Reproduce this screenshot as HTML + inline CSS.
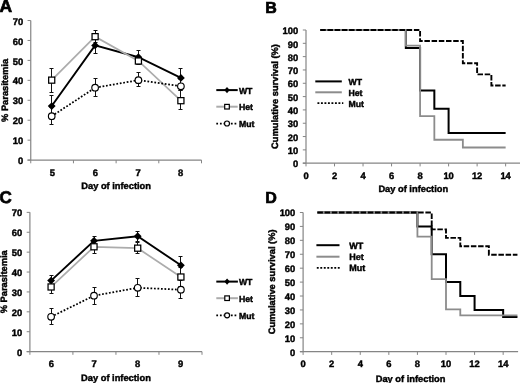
<!DOCTYPE html>
<html><head><meta charset="utf-8"><style>
html,body{margin:0;padding:0;background:#fff;}
body{width:520px;height:383px;overflow:hidden;}
svg{display:block;text-rendering:geometricPrecision;will-change:transform;}
text{font-family:"Liberation Sans", sans-serif;fill:#000;stroke:#000;stroke-width:0.42px;}
</style></head><body>
<svg width="520" height="383" viewBox="0 0 520 383">
<rect width="520" height="383" fill="#fff"/>
<line x1="30.75" y1="20.52" x2="30.75" y2="160.1" stroke="#858585" stroke-width="1.2"/>
<line x1="27.55" y1="160.1" x2="201.5" y2="160.1" stroke="#858585" stroke-width="1.2"/>
<line x1="27.55" y1="160.1" x2="30.75" y2="160.1" stroke="#858585" stroke-width="1.0"/>
<text x="23.15" y="164.2" font-size="9.4" text-anchor="end" font-weight="bold">0</text>
<line x1="27.55" y1="140.16" x2="30.75" y2="140.16" stroke="#858585" stroke-width="1.0"/>
<text x="23.15" y="144.26" font-size="9.4" text-anchor="end" font-weight="bold">10</text>
<line x1="27.55" y1="120.22" x2="30.75" y2="120.22" stroke="#858585" stroke-width="1.0"/>
<text x="23.15" y="124.32" font-size="9.4" text-anchor="end" font-weight="bold">20</text>
<line x1="27.55" y1="100.28" x2="30.75" y2="100.28" stroke="#858585" stroke-width="1.0"/>
<text x="23.15" y="104.38" font-size="9.4" text-anchor="end" font-weight="bold">30</text>
<line x1="27.55" y1="80.34" x2="30.75" y2="80.34" stroke="#858585" stroke-width="1.0"/>
<text x="23.15" y="84.44" font-size="9.4" text-anchor="end" font-weight="bold">40</text>
<line x1="27.55" y1="60.4" x2="30.75" y2="60.4" stroke="#858585" stroke-width="1.0"/>
<text x="23.15" y="64.5" font-size="9.4" text-anchor="end" font-weight="bold">50</text>
<line x1="27.55" y1="40.46" x2="30.75" y2="40.46" stroke="#858585" stroke-width="1.0"/>
<text x="23.15" y="44.56" font-size="9.4" text-anchor="end" font-weight="bold">60</text>
<line x1="27.55" y1="20.52" x2="30.75" y2="20.52" stroke="#858585" stroke-width="1.0"/>
<text x="23.15" y="24.62" font-size="9.4" text-anchor="end" font-weight="bold">70</text>
<line x1="30.75" y1="160.1" x2="30.75" y2="163.3" stroke="#858585" stroke-width="1.0"/>
<line x1="73.44" y1="160.1" x2="73.44" y2="163.3" stroke="#858585" stroke-width="1.0"/>
<line x1="116.12" y1="160.1" x2="116.12" y2="163.3" stroke="#858585" stroke-width="1.0"/>
<line x1="158.81" y1="160.1" x2="158.81" y2="163.3" stroke="#858585" stroke-width="1.0"/>
<line x1="201.5" y1="160.1" x2="201.5" y2="163.3" stroke="#858585" stroke-width="1.0"/>
<text x="52.3" y="175.7" font-size="9.4" text-anchor="middle" font-weight="bold">5</text>
<text x="95.3" y="175.7" font-size="9.4" text-anchor="middle" font-weight="bold">6</text>
<text x="138" y="175.7" font-size="9.4" text-anchor="middle" font-weight="bold">7</text>
<text x="180.5" y="175.7" font-size="9.4" text-anchor="middle" font-weight="bold">8</text>
<text x="116.12" y="189.2" font-size="9.3" text-anchor="middle" font-weight="bold">Day of infection</text>
<text transform="translate(7.8,90.41) rotate(-90)" x="0" y="0" font-size="9.3" text-anchor="middle" font-weight="bold">% Parasitemia</text>
<line x1="51.5" y1="95.5" x2="51.5" y2="117.5" stroke="#111" stroke-width="1.0"/>
<line x1="49.5" y1="95.5" x2="53.5" y2="95.5" stroke="#111" stroke-width="1.0"/>
<line x1="49.5" y1="117.5" x2="53.5" y2="117.5" stroke="#111" stroke-width="1.0"/>
<line x1="95.5" y1="37.5" x2="95.5" y2="53.5" stroke="#111" stroke-width="1.0"/>
<line x1="93.5" y1="37.5" x2="97.5" y2="37.5" stroke="#111" stroke-width="1.0"/>
<line x1="93.5" y1="53.5" x2="97.5" y2="53.5" stroke="#111" stroke-width="1.0"/>
<line x1="138.5" y1="50.5" x2="138.5" y2="64.5" stroke="#111" stroke-width="1.0"/>
<line x1="136.5" y1="50.5" x2="140.5" y2="50.5" stroke="#111" stroke-width="1.0"/>
<line x1="136.5" y1="64.5" x2="140.5" y2="64.5" stroke="#111" stroke-width="1.0"/>
<line x1="180.5" y1="68.5" x2="180.5" y2="86.5" stroke="#111" stroke-width="1.0"/>
<line x1="178.5" y1="68.5" x2="182.5" y2="68.5" stroke="#111" stroke-width="1.0"/>
<line x1="178.5" y1="86.5" x2="182.5" y2="86.5" stroke="#111" stroke-width="1.0"/>
<line x1="51.5" y1="68.5" x2="51.5" y2="92.5" stroke="#111" stroke-width="1.0"/>
<line x1="49.5" y1="68.5" x2="53.5" y2="68.5" stroke="#111" stroke-width="1.0"/>
<line x1="49.5" y1="92.5" x2="53.5" y2="92.5" stroke="#111" stroke-width="1.0"/>
<line x1="95.5" y1="30.5" x2="95.5" y2="42.5" stroke="#111" stroke-width="1.0"/>
<line x1="93.5" y1="30.5" x2="97.5" y2="30.5" stroke="#111" stroke-width="1.0"/>
<line x1="93.5" y1="42.5" x2="97.5" y2="42.5" stroke="#111" stroke-width="1.0"/>
<line x1="138.5" y1="57.5" x2="138.5" y2="64.5" stroke="#111" stroke-width="1.0"/>
<line x1="136.5" y1="57.5" x2="140.5" y2="57.5" stroke="#111" stroke-width="1.0"/>
<line x1="136.5" y1="64.5" x2="140.5" y2="64.5" stroke="#111" stroke-width="1.0"/>
<line x1="180.5" y1="90.5" x2="180.5" y2="109.5" stroke="#111" stroke-width="1.0"/>
<line x1="178.5" y1="90.5" x2="182.5" y2="90.5" stroke="#111" stroke-width="1.0"/>
<line x1="178.5" y1="109.5" x2="182.5" y2="109.5" stroke="#111" stroke-width="1.0"/>
<line x1="51.5" y1="107.5" x2="51.5" y2="124.5" stroke="#111" stroke-width="1.0"/>
<line x1="49.5" y1="107.5" x2="53.5" y2="107.5" stroke="#111" stroke-width="1.0"/>
<line x1="49.5" y1="124.5" x2="53.5" y2="124.5" stroke="#111" stroke-width="1.0"/>
<line x1="95.5" y1="78.5" x2="95.5" y2="96.5" stroke="#111" stroke-width="1.0"/>
<line x1="93.5" y1="78.5" x2="97.5" y2="78.5" stroke="#111" stroke-width="1.0"/>
<line x1="93.5" y1="96.5" x2="97.5" y2="96.5" stroke="#111" stroke-width="1.0"/>
<line x1="138.5" y1="72.5" x2="138.5" y2="86.5" stroke="#111" stroke-width="1.0"/>
<line x1="136.5" y1="72.5" x2="140.5" y2="72.5" stroke="#111" stroke-width="1.0"/>
<line x1="136.5" y1="86.5" x2="140.5" y2="86.5" stroke="#111" stroke-width="1.0"/>
<line x1="180.5" y1="79.5" x2="180.5" y2="90.5" stroke="#111" stroke-width="1.0"/>
<line x1="178.5" y1="79.5" x2="182.5" y2="79.5" stroke="#111" stroke-width="1.0"/>
<line x1="178.5" y1="90.5" x2="182.5" y2="90.5" stroke="#111" stroke-width="1.0"/>
<polyline points="51.7,106.06 95.1,45.44 138.4,57.21 180.9,77.95" fill="none" stroke="#000" stroke-width="1.9" stroke-linejoin="miter"/>
<path d="M51.7,102.16L55.6,106.06L51.7,109.96L47.8,106.06Z" fill="#000"/>
<path d="M95.1,41.54L99,45.44L95.1,49.34L91.2,45.44Z" fill="#000"/>
<path d="M138.4,53.31L142.3,57.21L138.4,61.11L134.5,57.21Z" fill="#000"/>
<path d="M180.9,74.05L184.8,77.95L180.9,81.85L177,77.95Z" fill="#000"/>
<polyline points="51.7,80.14 95.1,36.67 138.4,61 180.9,100.68" fill="none" stroke="#acacac" stroke-width="1.7" stroke-linejoin="miter"/>
<rect x="48.65" y="77.09" width="6.1" height="6.1" fill="#fff" stroke="#000" stroke-width="1.25"/>
<rect x="92.05" y="33.62" width="6.1" height="6.1" fill="#fff" stroke="#000" stroke-width="1.25"/>
<rect x="135.35" y="57.95" width="6.1" height="6.1" fill="#fff" stroke="#000" stroke-width="1.25"/>
<rect x="177.85" y="97.63" width="6.1" height="6.1" fill="#fff" stroke="#000" stroke-width="1.25"/>
<polyline points="51.7,116.23 95.1,87.72 138.4,80.14 180.9,86.32" fill="none" stroke="#000" stroke-width="1.75" stroke-linejoin="miter" stroke-dasharray="1.75 1.75"/>
<circle cx="51.7" cy="116.23" r="3.3" fill="#fff" stroke="#000" stroke-width="1.15"/>
<circle cx="95.1" cy="87.72" r="3.3" fill="#fff" stroke="#000" stroke-width="1.15"/>
<circle cx="138.4" cy="80.14" r="3.3" fill="#fff" stroke="#000" stroke-width="1.15"/>
<circle cx="180.9" cy="86.32" r="3.3" fill="#fff" stroke="#000" stroke-width="1.15"/>
<line x1="216.3" y1="90.1" x2="237.7" y2="90.1" stroke="#000" stroke-width="2.0"/>
<path d="M227,87L229.7,90.1L227,93.2L224.3,90.1Z" fill="#000"/>
<line x1="216.3" y1="106.7" x2="237.7" y2="106.7" stroke="#acacac" stroke-width="2.0"/>
<rect x="224.7" y="104.4" width="4.6" height="4.6" fill="#fff" stroke="#000" stroke-width="1.2"/>
<line x1="216.3" y1="123.5" x2="237.7" y2="123.5" stroke="#000" stroke-width="1.75" stroke-dasharray="1.75 1.9"/>
<circle cx="227" cy="123.5" r="2.5" fill="#fff" stroke="#000" stroke-width="1.2"/>
<text x="238.9" y="93.6" font-size="8.7" text-anchor="start" font-weight="bold">WT</text>
<text x="238.9" y="110.2" font-size="8.7" text-anchor="start" font-weight="bold">Het</text>
<text x="238.9" y="127" font-size="8.7" text-anchor="start" font-weight="bold">Mut</text>
<text x="-0.6" y="11.9" font-size="17.5" text-anchor="start" font-weight="bold" style="stroke-width:0.7px">A</text>
<line x1="306" y1="30" x2="306" y2="163.2" stroke="#858585" stroke-width="1.2"/>
<line x1="302.8" y1="163.2" x2="520.5" y2="163.2" stroke="#858585" stroke-width="1.2"/>
<line x1="302.8" y1="163.2" x2="306" y2="163.2" stroke="#858585" stroke-width="1.0"/>
<text x="298.2" y="167.4" font-size="9.4" text-anchor="end" font-weight="bold">0</text>
<line x1="302.8" y1="149.88" x2="306" y2="149.88" stroke="#858585" stroke-width="1.0"/>
<text x="298.2" y="154.08" font-size="9.4" text-anchor="end" font-weight="bold">10</text>
<line x1="302.8" y1="136.56" x2="306" y2="136.56" stroke="#858585" stroke-width="1.0"/>
<text x="298.2" y="140.76" font-size="9.4" text-anchor="end" font-weight="bold">20</text>
<line x1="302.8" y1="123.24" x2="306" y2="123.24" stroke="#858585" stroke-width="1.0"/>
<text x="298.2" y="127.44" font-size="9.4" text-anchor="end" font-weight="bold">30</text>
<line x1="302.8" y1="109.92" x2="306" y2="109.92" stroke="#858585" stroke-width="1.0"/>
<text x="298.2" y="114.12" font-size="9.4" text-anchor="end" font-weight="bold">40</text>
<line x1="302.8" y1="96.6" x2="306" y2="96.6" stroke="#858585" stroke-width="1.0"/>
<text x="298.2" y="100.8" font-size="9.4" text-anchor="end" font-weight="bold">50</text>
<line x1="302.8" y1="83.28" x2="306" y2="83.28" stroke="#858585" stroke-width="1.0"/>
<text x="298.2" y="87.48" font-size="9.4" text-anchor="end" font-weight="bold">60</text>
<line x1="302.8" y1="69.96" x2="306" y2="69.96" stroke="#858585" stroke-width="1.0"/>
<text x="298.2" y="74.16" font-size="9.4" text-anchor="end" font-weight="bold">70</text>
<line x1="302.8" y1="56.64" x2="306" y2="56.64" stroke="#858585" stroke-width="1.0"/>
<text x="298.2" y="60.84" font-size="9.4" text-anchor="end" font-weight="bold">80</text>
<line x1="302.8" y1="43.32" x2="306" y2="43.32" stroke="#858585" stroke-width="1.0"/>
<text x="298.2" y="47.52" font-size="9.4" text-anchor="end" font-weight="bold">90</text>
<line x1="302.8" y1="30" x2="306" y2="30" stroke="#858585" stroke-width="1.0"/>
<text x="298.2" y="34.2" font-size="9.4" text-anchor="end" font-weight="bold">100</text>
<line x1="306" y1="163.2" x2="306" y2="166.4" stroke="#858585" stroke-width="1.0"/>
<text x="306" y="178.8" font-size="9.4" text-anchor="middle" font-weight="bold">0</text>
<line x1="334.52" y1="163.2" x2="334.52" y2="166.4" stroke="#858585" stroke-width="1.0"/>
<text x="334.52" y="178.8" font-size="9.4" text-anchor="middle" font-weight="bold">2</text>
<line x1="363.04" y1="163.2" x2="363.04" y2="166.4" stroke="#858585" stroke-width="1.0"/>
<text x="363.04" y="178.8" font-size="9.4" text-anchor="middle" font-weight="bold">4</text>
<line x1="391.56" y1="163.2" x2="391.56" y2="166.4" stroke="#858585" stroke-width="1.0"/>
<text x="391.56" y="178.8" font-size="9.4" text-anchor="middle" font-weight="bold">6</text>
<line x1="420.08" y1="163.2" x2="420.08" y2="166.4" stroke="#858585" stroke-width="1.0"/>
<text x="420.08" y="178.8" font-size="9.4" text-anchor="middle" font-weight="bold">8</text>
<line x1="448.6" y1="163.2" x2="448.6" y2="166.4" stroke="#858585" stroke-width="1.0"/>
<text x="448.6" y="178.8" font-size="9.4" text-anchor="middle" font-weight="bold">10</text>
<line x1="477.12" y1="163.2" x2="477.12" y2="166.4" stroke="#858585" stroke-width="1.0"/>
<text x="477.12" y="178.8" font-size="9.4" text-anchor="middle" font-weight="bold">12</text>
<line x1="505.64" y1="163.2" x2="505.64" y2="166.4" stroke="#858585" stroke-width="1.0"/>
<text x="505.64" y="178.8" font-size="9.4" text-anchor="middle" font-weight="bold">14</text>
<text x="413.25" y="192.3" font-size="9.3" text-anchor="middle" font-weight="bold">Day of infection</text>
<text transform="translate(277.6,96.5) rotate(-90)" x="0" y="0" font-size="9.3" text-anchor="middle" font-weight="bold">Cumulative survival (%)</text>
<polyline points="320.26,30 405.82,30 405.82,48.12 420.08,48.12 420.08,90.61 434.34,90.61 434.34,108.72 448.6,108.72 448.6,132.96 505.64,132.96" fill="none" stroke="#000" stroke-width="2.0" stroke-linejoin="miter"/>
<polyline points="320.26,30 405.82,30 405.82,45.72 420.08,45.72 420.08,116.18 434.34,116.18 434.34,139.76 462.86,139.76 462.86,147.48 505.64,147.48" fill="none" stroke="#8c8c8c" stroke-width="1.8" stroke-linejoin="miter"/>
<polyline points="320.26,30 420.08,30 420.08,41.06 462.86,41.06 462.86,63.3 477.12,63.3 477.12,74.36 491.38,74.36 491.38,85.54 505.64,85.54" fill="none" stroke="#000" stroke-width="1.9" stroke-linejoin="miter" stroke-dasharray="5.5 1.7"/>
<line x1="315.3" y1="81.4" x2="341.8" y2="81.4" stroke="#000" stroke-width="2.0"/>
<line x1="315.3" y1="92.3" x2="341.8" y2="92.3" stroke="#8c8c8c" stroke-width="2.0"/>
<line x1="317.45" y1="103.1" x2="343.3" y2="103.1" stroke="#000" stroke-width="1.9" stroke-dasharray="1.9 1.6"/>
<text x="348.5" y="85.1" font-size="8.7" text-anchor="start" font-weight="bold">WT</text>
<text x="348.5" y="96" font-size="8.7" text-anchor="start" font-weight="bold">Het</text>
<text x="348.5" y="106.8" font-size="8.7" text-anchor="start" font-weight="bold">Mut</text>
<text x="265.2" y="12.6" font-size="16" text-anchor="start" font-weight="bold" style="stroke-width:0.7px">B</text>
<line x1="29.9" y1="212.37" x2="29.9" y2="351.6" stroke="#858585" stroke-width="1.2"/>
<line x1="26.7" y1="351.6" x2="202" y2="351.6" stroke="#858585" stroke-width="1.2"/>
<line x1="26.7" y1="351.6" x2="29.9" y2="351.6" stroke="#858585" stroke-width="1.0"/>
<text x="22.3" y="355.7" font-size="9.4" text-anchor="end" font-weight="bold">0</text>
<line x1="26.7" y1="331.71" x2="29.9" y2="331.71" stroke="#858585" stroke-width="1.0"/>
<text x="22.3" y="335.81" font-size="9.4" text-anchor="end" font-weight="bold">10</text>
<line x1="26.7" y1="311.82" x2="29.9" y2="311.82" stroke="#858585" stroke-width="1.0"/>
<text x="22.3" y="315.92" font-size="9.4" text-anchor="end" font-weight="bold">20</text>
<line x1="26.7" y1="291.93" x2="29.9" y2="291.93" stroke="#858585" stroke-width="1.0"/>
<text x="22.3" y="296.03" font-size="9.4" text-anchor="end" font-weight="bold">30</text>
<line x1="26.7" y1="272.04" x2="29.9" y2="272.04" stroke="#858585" stroke-width="1.0"/>
<text x="22.3" y="276.14" font-size="9.4" text-anchor="end" font-weight="bold">40</text>
<line x1="26.7" y1="252.15" x2="29.9" y2="252.15" stroke="#858585" stroke-width="1.0"/>
<text x="22.3" y="256.25" font-size="9.4" text-anchor="end" font-weight="bold">50</text>
<line x1="26.7" y1="232.26" x2="29.9" y2="232.26" stroke="#858585" stroke-width="1.0"/>
<text x="22.3" y="236.36" font-size="9.4" text-anchor="end" font-weight="bold">60</text>
<line x1="26.7" y1="212.37" x2="29.9" y2="212.37" stroke="#858585" stroke-width="1.0"/>
<text x="22.3" y="216.47" font-size="9.4" text-anchor="end" font-weight="bold">70</text>
<line x1="29.9" y1="351.6" x2="29.9" y2="354.8" stroke="#858585" stroke-width="1.0"/>
<line x1="72.92" y1="351.6" x2="72.92" y2="354.8" stroke="#858585" stroke-width="1.0"/>
<line x1="115.95" y1="351.6" x2="115.95" y2="354.8" stroke="#858585" stroke-width="1.0"/>
<line x1="158.97" y1="351.6" x2="158.97" y2="354.8" stroke="#858585" stroke-width="1.0"/>
<line x1="202" y1="351.6" x2="202" y2="354.8" stroke="#858585" stroke-width="1.0"/>
<text x="51.4" y="367.2" font-size="9.4" text-anchor="middle" font-weight="bold">6</text>
<text x="94.1" y="367.2" font-size="9.4" text-anchor="middle" font-weight="bold">7</text>
<text x="137.6" y="367.2" font-size="9.4" text-anchor="middle" font-weight="bold">8</text>
<text x="180.5" y="367.2" font-size="9.4" text-anchor="middle" font-weight="bold">9</text>
<text x="115.95" y="380.7" font-size="9.3" text-anchor="middle" font-weight="bold">Day of infection</text>
<text transform="translate(6.8,281.79) rotate(-90)" x="0" y="0" font-size="9.3" text-anchor="middle" font-weight="bold">% Parasitemia</text>
<line x1="51.5" y1="275.5" x2="51.5" y2="285.5" stroke="#111" stroke-width="1.0"/>
<line x1="49.5" y1="275.5" x2="53.5" y2="275.5" stroke="#111" stroke-width="1.0"/>
<line x1="49.5" y1="285.5" x2="53.5" y2="285.5" stroke="#111" stroke-width="1.0"/>
<line x1="94.5" y1="236.5" x2="94.5" y2="244.5" stroke="#111" stroke-width="1.0"/>
<line x1="92.5" y1="236.5" x2="96.5" y2="236.5" stroke="#111" stroke-width="1.0"/>
<line x1="92.5" y1="244.5" x2="96.5" y2="244.5" stroke="#111" stroke-width="1.0"/>
<line x1="137.5" y1="231.5" x2="137.5" y2="241.5" stroke="#111" stroke-width="1.0"/>
<line x1="135.5" y1="231.5" x2="139.5" y2="231.5" stroke="#111" stroke-width="1.0"/>
<line x1="135.5" y1="241.5" x2="139.5" y2="241.5" stroke="#111" stroke-width="1.0"/>
<line x1="180.5" y1="256.5" x2="180.5" y2="274.5" stroke="#111" stroke-width="1.0"/>
<line x1="178.5" y1="256.5" x2="182.5" y2="256.5" stroke="#111" stroke-width="1.0"/>
<line x1="178.5" y1="274.5" x2="182.5" y2="274.5" stroke="#111" stroke-width="1.0"/>
<line x1="51.5" y1="280.5" x2="51.5" y2="293.5" stroke="#111" stroke-width="1.0"/>
<line x1="49.5" y1="280.5" x2="53.5" y2="280.5" stroke="#111" stroke-width="1.0"/>
<line x1="49.5" y1="293.5" x2="53.5" y2="293.5" stroke="#111" stroke-width="1.0"/>
<line x1="94.5" y1="240.5" x2="94.5" y2="253.5" stroke="#111" stroke-width="1.0"/>
<line x1="92.5" y1="240.5" x2="96.5" y2="240.5" stroke="#111" stroke-width="1.0"/>
<line x1="92.5" y1="253.5" x2="96.5" y2="253.5" stroke="#111" stroke-width="1.0"/>
<line x1="137.5" y1="242.5" x2="137.5" y2="253.5" stroke="#111" stroke-width="1.0"/>
<line x1="135.5" y1="242.5" x2="139.5" y2="242.5" stroke="#111" stroke-width="1.0"/>
<line x1="135.5" y1="253.5" x2="139.5" y2="253.5" stroke="#111" stroke-width="1.0"/>
<line x1="180.5" y1="267.5" x2="180.5" y2="286.5" stroke="#111" stroke-width="1.0"/>
<line x1="178.5" y1="267.5" x2="182.5" y2="267.5" stroke="#111" stroke-width="1.0"/>
<line x1="178.5" y1="286.5" x2="182.5" y2="286.5" stroke="#111" stroke-width="1.0"/>
<line x1="51.5" y1="308.5" x2="51.5" y2="324.5" stroke="#111" stroke-width="1.0"/>
<line x1="49.5" y1="308.5" x2="53.5" y2="308.5" stroke="#111" stroke-width="1.0"/>
<line x1="49.5" y1="324.5" x2="53.5" y2="324.5" stroke="#111" stroke-width="1.0"/>
<line x1="94.5" y1="287.5" x2="94.5" y2="304.5" stroke="#111" stroke-width="1.0"/>
<line x1="92.5" y1="287.5" x2="96.5" y2="287.5" stroke="#111" stroke-width="1.0"/>
<line x1="92.5" y1="304.5" x2="96.5" y2="304.5" stroke="#111" stroke-width="1.0"/>
<line x1="137.5" y1="278.5" x2="137.5" y2="296.5" stroke="#111" stroke-width="1.0"/>
<line x1="135.5" y1="278.5" x2="139.5" y2="278.5" stroke="#111" stroke-width="1.0"/>
<line x1="135.5" y1="296.5" x2="139.5" y2="296.5" stroke="#111" stroke-width="1.0"/>
<line x1="180.5" y1="280.5" x2="180.5" y2="298.5" stroke="#111" stroke-width="1.0"/>
<line x1="178.5" y1="280.5" x2="182.5" y2="280.5" stroke="#111" stroke-width="1.0"/>
<line x1="178.5" y1="298.5" x2="182.5" y2="298.5" stroke="#111" stroke-width="1.0"/>
<polyline points="51.1,280.59 94,240.81 137.7,236.24 180.9,265.28" fill="none" stroke="#000" stroke-width="1.9" stroke-linejoin="miter"/>
<path d="M51.1,276.69L55,280.59L51.1,284.49L47.2,280.59Z" fill="#000"/>
<path d="M94,236.91L97.9,240.81L94,244.71L90.1,240.81Z" fill="#000"/>
<path d="M137.7,232.34L141.6,236.24L137.7,240.14L133.8,236.24Z" fill="#000"/>
<path d="M180.9,261.38L184.8,265.28L180.9,269.18L177,265.28Z" fill="#000"/>
<polyline points="51.1,286.96 94,246.78 137.7,248.17 180.9,277.01" fill="none" stroke="#acacac" stroke-width="1.7" stroke-linejoin="miter"/>
<rect x="48.05" y="283.91" width="6.1" height="6.1" fill="#fff" stroke="#000" stroke-width="1.25"/>
<rect x="90.95" y="243.73" width="6.1" height="6.1" fill="#fff" stroke="#000" stroke-width="1.25"/>
<rect x="134.65" y="245.12" width="6.1" height="6.1" fill="#fff" stroke="#000" stroke-width="1.25"/>
<rect x="177.85" y="273.96" width="6.1" height="6.1" fill="#fff" stroke="#000" stroke-width="1.25"/>
<polyline points="51.1,316.79 94,295.71 137.7,287.75 180.9,289.74" fill="none" stroke="#000" stroke-width="1.75" stroke-linejoin="miter" stroke-dasharray="1.75 1.75"/>
<circle cx="51.1" cy="316.79" r="3.3" fill="#fff" stroke="#000" stroke-width="1.15"/>
<circle cx="94" cy="295.71" r="3.3" fill="#fff" stroke="#000" stroke-width="1.15"/>
<circle cx="137.7" cy="287.75" r="3.3" fill="#fff" stroke="#000" stroke-width="1.15"/>
<circle cx="180.9" cy="289.74" r="3.3" fill="#fff" stroke="#000" stroke-width="1.15"/>
<line x1="216.3" y1="281.6" x2="237.9" y2="281.6" stroke="#000" stroke-width="2.0"/>
<path d="M227.1,278.5L229.8,281.6L227.1,284.7L224.4,281.6Z" fill="#000"/>
<line x1="216.3" y1="298.2" x2="237.9" y2="298.2" stroke="#acacac" stroke-width="2.0"/>
<rect x="224.8" y="295.9" width="4.6" height="4.6" fill="#fff" stroke="#000" stroke-width="1.2"/>
<line x1="216.3" y1="315.3" x2="237.9" y2="315.3" stroke="#000" stroke-width="1.75" stroke-dasharray="1.75 1.9"/>
<circle cx="227.1" cy="315.3" r="2.5" fill="#fff" stroke="#000" stroke-width="1.2"/>
<text x="238.9" y="285.1" font-size="8.7" text-anchor="start" font-weight="bold">WT</text>
<text x="238.9" y="301.7" font-size="8.7" text-anchor="start" font-weight="bold">Het</text>
<text x="238.9" y="318.8" font-size="8.7" text-anchor="start" font-weight="bold">Mut</text>
<text x="-0.6" y="203.3" font-size="17" text-anchor="start" font-weight="bold" style="stroke-width:0.7px">C</text>
<line x1="303.1" y1="212.5" x2="303.1" y2="351.7" stroke="#858585" stroke-width="1.2"/>
<line x1="299.9" y1="351.7" x2="518.1" y2="351.7" stroke="#858585" stroke-width="1.2"/>
<line x1="299.9" y1="351.7" x2="303.1" y2="351.7" stroke="#858585" stroke-width="1.0"/>
<text x="295.3" y="355.6" font-size="9.4" text-anchor="end" font-weight="bold">0</text>
<line x1="299.9" y1="337.78" x2="303.1" y2="337.78" stroke="#858585" stroke-width="1.0"/>
<text x="295.3" y="341.68" font-size="9.4" text-anchor="end" font-weight="bold">10</text>
<line x1="299.9" y1="323.86" x2="303.1" y2="323.86" stroke="#858585" stroke-width="1.0"/>
<text x="295.3" y="327.76" font-size="9.4" text-anchor="end" font-weight="bold">20</text>
<line x1="299.9" y1="309.94" x2="303.1" y2="309.94" stroke="#858585" stroke-width="1.0"/>
<text x="295.3" y="313.84" font-size="9.4" text-anchor="end" font-weight="bold">30</text>
<line x1="299.9" y1="296.02" x2="303.1" y2="296.02" stroke="#858585" stroke-width="1.0"/>
<text x="295.3" y="299.92" font-size="9.4" text-anchor="end" font-weight="bold">40</text>
<line x1="299.9" y1="282.1" x2="303.1" y2="282.1" stroke="#858585" stroke-width="1.0"/>
<text x="295.3" y="286" font-size="9.4" text-anchor="end" font-weight="bold">50</text>
<line x1="299.9" y1="268.18" x2="303.1" y2="268.18" stroke="#858585" stroke-width="1.0"/>
<text x="295.3" y="272.08" font-size="9.4" text-anchor="end" font-weight="bold">60</text>
<line x1="299.9" y1="254.26" x2="303.1" y2="254.26" stroke="#858585" stroke-width="1.0"/>
<text x="295.3" y="258.16" font-size="9.4" text-anchor="end" font-weight="bold">70</text>
<line x1="299.9" y1="240.34" x2="303.1" y2="240.34" stroke="#858585" stroke-width="1.0"/>
<text x="295.3" y="244.24" font-size="9.4" text-anchor="end" font-weight="bold">80</text>
<line x1="299.9" y1="226.42" x2="303.1" y2="226.42" stroke="#858585" stroke-width="1.0"/>
<text x="295.3" y="230.32" font-size="9.4" text-anchor="end" font-weight="bold">90</text>
<line x1="299.9" y1="212.5" x2="303.1" y2="212.5" stroke="#858585" stroke-width="1.0"/>
<text x="295.3" y="216.4" font-size="9.4" text-anchor="end" font-weight="bold">100</text>
<line x1="303.1" y1="351.7" x2="303.1" y2="354.9" stroke="#858585" stroke-width="1.0"/>
<text x="303.1" y="366.8" font-size="9.4" text-anchor="middle" font-weight="bold">0</text>
<line x1="331.68" y1="351.7" x2="331.68" y2="354.9" stroke="#858585" stroke-width="1.0"/>
<text x="331.68" y="366.8" font-size="9.4" text-anchor="middle" font-weight="bold">2</text>
<line x1="360.26" y1="351.7" x2="360.26" y2="354.9" stroke="#858585" stroke-width="1.0"/>
<text x="360.26" y="366.8" font-size="9.4" text-anchor="middle" font-weight="bold">4</text>
<line x1="388.84" y1="351.7" x2="388.84" y2="354.9" stroke="#858585" stroke-width="1.0"/>
<text x="388.84" y="366.8" font-size="9.4" text-anchor="middle" font-weight="bold">6</text>
<line x1="417.42" y1="351.7" x2="417.42" y2="354.9" stroke="#858585" stroke-width="1.0"/>
<text x="417.42" y="366.8" font-size="9.4" text-anchor="middle" font-weight="bold">8</text>
<line x1="446" y1="351.7" x2="446" y2="354.9" stroke="#858585" stroke-width="1.0"/>
<text x="446" y="366.8" font-size="9.4" text-anchor="middle" font-weight="bold">10</text>
<line x1="474.58" y1="351.7" x2="474.58" y2="354.9" stroke="#858585" stroke-width="1.0"/>
<text x="474.58" y="366.8" font-size="9.4" text-anchor="middle" font-weight="bold">12</text>
<line x1="503.16" y1="351.7" x2="503.16" y2="354.9" stroke="#858585" stroke-width="1.0"/>
<text x="503.16" y="366.8" font-size="9.4" text-anchor="middle" font-weight="bold">14</text>
<text x="410.6" y="381.5" font-size="9.3" text-anchor="middle" font-weight="bold">Day of infection</text>
<text transform="translate(274.8,281.9) rotate(-90)" x="0" y="0" font-size="9.3" text-anchor="middle" font-weight="bold">Cumulative survival (%)</text>
<polyline points="317.39,212.5 417.42,212.5 417.42,226.42 431.71,226.42 431.71,254.26 446,254.26 446,282.1 460.29,282.1 460.29,296.02 474.58,296.02 474.58,309.94 503.16,309.94 503.16,316.9 517.45,316.9" fill="none" stroke="#000" stroke-width="2.0" stroke-linejoin="miter"/>
<polyline points="317.39,212.5 417.42,212.5 417.42,236.72 431.71,236.72 431.71,279.04 446,279.04 446,309.38 460.29,309.38 460.29,315.37 517.45,315.37" fill="none" stroke="#8c8c8c" stroke-width="1.8" stroke-linejoin="miter"/>
<polyline points="317.39,212.5 431.71,212.5 431.71,229.34 446,229.34 446,237.83 460.29,237.83 460.29,246.19 488.87,246.19 488.87,254.68 517.45,254.68" fill="none" stroke="#000" stroke-width="1.9" stroke-linejoin="miter" stroke-dasharray="5.5 1.7"/>
<line x1="316.4" y1="245.2" x2="339.5" y2="245.2" stroke="#000" stroke-width="2.0"/>
<line x1="316.4" y1="256.7" x2="339.5" y2="256.7" stroke="#8c8c8c" stroke-width="2.0"/>
<line x1="316.8" y1="267.9" x2="340.5" y2="267.9" stroke="#000" stroke-width="1.9" stroke-dasharray="1.9 1.6"/>
<text x="349.3" y="248.5" font-size="9.0" text-anchor="start" font-weight="bold">WT</text>
<text x="349.3" y="260" font-size="9.0" text-anchor="start" font-weight="bold">Het</text>
<text x="349.3" y="271.2" font-size="9.0" text-anchor="start" font-weight="bold">Mut</text>
<text x="265.2" y="203.2" font-size="16" text-anchor="start" font-weight="bold" style="stroke-width:0.7px">D</text>
</svg>
</body></html>
